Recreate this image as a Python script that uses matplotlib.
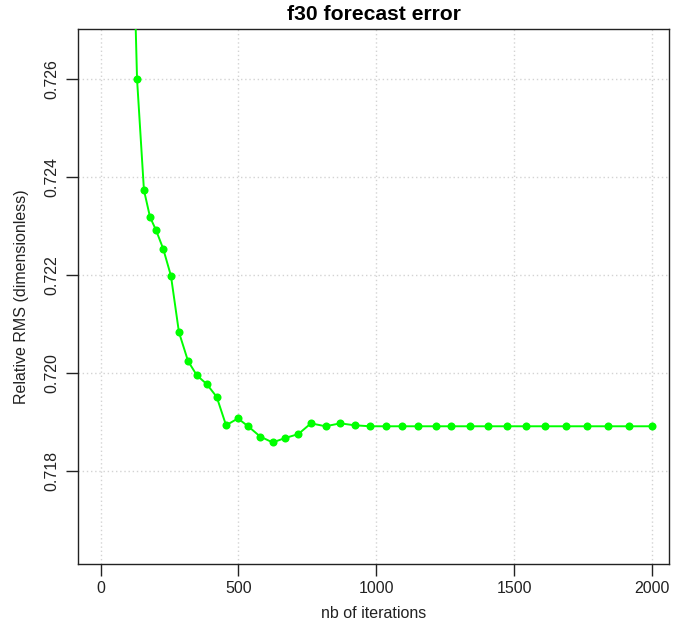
import numpy as np
import matplotlib
matplotlib.use("Agg")
import matplotlib.pyplot as plt

plt.rcParams['font.family'] = ['Liberation Sans', 'DejaVu Sans']

# iterations and relative RMS of the f30 forecast
iterations = [105, 132, 157, 179, 201, 227, 255, 284, 317, 349, 385, 421,
              455, 498, 535, 579, 624, 669, 717, 763, 816, 869, 922, 978,
              1035, 1093, 1152, 1215, 1273, 1340, 1407, 1473, 1543, 1614,
              1689, 1763, 1841, 1917, 1999]
rel_rms = [0.7318, 0.72600, 0.72374, 0.72319, 0.72292, 0.72254, 0.72199,
           0.72084, 0.72025, 0.71996, 0.71978, 0.71952, 0.71894, 0.71908,
           0.71892, 0.71871, 0.71859, 0.71868, 0.71876, 0.71898, 0.71892,
           0.71898, 0.71894, 0.71892, 0.71892, 0.71892, 0.71892, 0.71892,
           0.71892, 0.71892, 0.71892, 0.71892, 0.71892, 0.71892, 0.71892,
           0.71892, 0.71892, 0.71892, 0.71892]

x_ticks = [0, 500, 1000, 1500, 2000]
y_ticks = [0.718, 0.720, 0.722, 0.724, 0.726]

W, H = 688, 627
fig = plt.figure(figsize=(W / 100, H / 100), dpi=100)
ax = fig.add_axes([77.8 / W, 1 - 564 / H, (669.2 - 77.8) / W, (564 - 29.3) / H])

ax.plot(iterations, rel_rms, color='#00FF00', lw=1.4, marker='o',
        markersize=5.8, markeredgewidth=0, zorder=3)

ax.set_xlim(-83, 2063)
ax.set_ylim(0.71611, 0.72702)
ax.set_xticks(x_ticks)
ax.set_yticks(y_ticks)
ax.set_xticklabels([str(t) for t in x_ticks])
ax.set_yticklabels(['%.3f' % t for t in y_ticks], rotation=90, va='center')

ax.grid(True, color='#D3D3D3', linestyle=(0, (1, 2)), linewidth=1)
for s in ax.spines.values():
    s.set_linewidth(1.0)
    s.set_color('#222222')
ax.tick_params(axis='both', length=8.5, width=1.0, colors='#222222',
               labelsize=11.5, labelcolor='#222222')
ax.tick_params(axis='x', pad=4)
ax.tick_params(axis='y', pad=5)

fig.text(373.5 / W, 1 - 14 / H, 'f30 forecast error', ha='center', va='center',
         fontsize=15.2, fontweight='bold')
fig.text(373.5 / W, 1 - 613 / H, 'nb of iterations', ha='center', va='center',
         fontsize=11.5, color='#222222')
fig.text(22 / W, 1 - 296.5 / H, 'Relative RMS (dimensionless)', ha='center',
         va='center', rotation=90, fontsize=11.5, color='#222222')

fig.savefig('out.png', dpi=100)
